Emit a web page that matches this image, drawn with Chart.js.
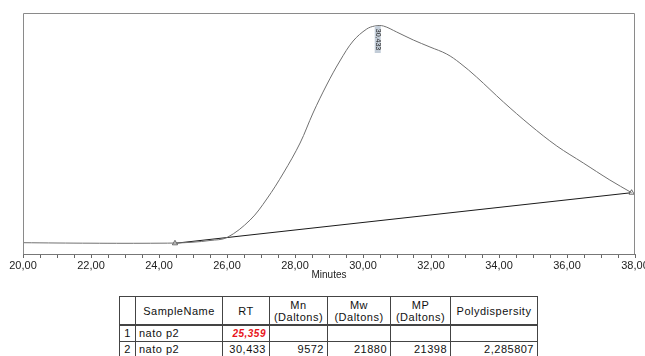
<!DOCTYPE html>
<html>
<head>
<meta charset="utf-8">
<script src="https://cdn.jsdelivr.net/npm/chart.js@4/dist/chart.umd.min.js"></script>
<style>
  html, body { margin:0; padding:0; background:#fff; overflow:hidden; width:645px; height:356px; }
  #wrap { position:absolute; left:0; top:0; width:660px; height:290px; }
  #results { position:absolute; left:119px; top:296px; border-collapse:collapse;
    font-family:"Liberation Sans", Arial, sans-serif; font-size:11px; color:#111; letter-spacing:0.5px; }
  #results td, #results th { border:1px solid #444; padding:0 3px; font-weight:normal; white-space:nowrap; }
  #results th { text-align:center; line-height:12px; height:27px; border-bottom:2px solid #444; }
  #results td { height:15px; line-height:13px; text-align:right; }
  #results td.l { text-align:left; }
  #results td.c { text-align:center; }
  #results td.red { color:#e8141c; font-style:italic; font-weight:bold; font-size:10px; }
</style>
</head>
<body>
<div id="wrap"><canvas id="chrom" width="660" height="290"></canvas></div>
<table id="results"></table>
<script>
// chromatogram trace (minutes / detector response)
const times  = [20, 21, 22, 23, 24, 24.5, 25, 25.5, 26, 26.68, 27.17, 27.66, 28.15, 28.53, 28.93, 29.32, 29.71, 30.11, 30.35, 30.6, 30.99, 31.48, 31.97, 32.46, 32.85, 33.34, 34.13, 34.91, 35.7, 36.48, 37.26, 37.9];
const signal = [11.3, 11.0, 10.8, 10.7, 10.8, 11.0, 11.8, 13.5, 16.5, 34, 55, 81, 111, 141, 169, 193, 213, 225, 228, 228, 222, 214, 207, 200, 191, 177, 152, 129, 108, 91, 74, 61.3];
// integration baseline
const baseTimes  = [24.47, 37.9];
const baseValues = [10.7, 61.3];
// axis
const xMin = 20, xMax = 38, xStep = 0.5;
const yMax = 241;
// results table
const tableHeaders = ['', 'SampleName', 'RT', 'Mn\n(Daltons)', 'Mw\n(Daltons)', 'MP\n(Daltons)', 'Polydispersity'];
const rowIds  = ['1', '2'];
const sampleNames = ['nato p2', 'nato p2'];
const rtValues = ['25,359', '30,433'];
const mnValues = ['', '9572'];
const mwValues = ['', '21880'];
const mpValues = ['', '21398'];
const pdValues = ['', '2,285807'];
const peakRT = 30.433;

const colWidths = [16, 87, 47, 58, 63, 60, 87];

// build table
const tbl = document.getElementById('results');
let html = '<tr>' + tableHeaders.map((h,i)=>`<th style="width:${colWidths[i]-7}px">${h.replace('\n','<br>')}</th>`).join('') + '</tr>';
rowIds.forEach((id,i)=>{
  html += `<tr><td class="c">${id}</td><td class="l">${sampleNames[i]}</td>`
    + `<td class="${i===0?'red':''}">${rtValues[i]}</td><td>${mnValues[i]}</td><td>${mwValues[i]}</td>`
    + `<td>${mpValues[i]}</td><td>${pdValues[i]}</td></tr>`;
});
tbl.innerHTML = html;

const framePlugin = {
  id:'frame',
  afterDraw(chart){
    const {ctx, chartArea:a, scales} = chart;
    ctx.save();
    ctx.strokeStyle = '#8a8a8a';
    ctx.lineWidth = 1;
    ctx.beginPath();
    ctx.moveTo(a.left+0.5, a.bottom);
    ctx.lineTo(a.left+0.5, a.top+0.5);
    ctx.lineTo(a.right-0.5, a.top+0.5);
    ctx.lineTo(a.right-0.5, a.bottom);
    ctx.stroke();
    // peak label
    const px = scales.x.getPixelForValue(peakRT);
    const py = scales.y.getPixelForValue(Math.max(...signal));
    ctx.fillStyle = '#c3cdd8';
    ctx.fillRect(px-3, py, 6, 27);
    ctx.translate(px, py+13.5);
    ctx.rotate(Math.PI/2);
    ctx.fillStyle = '#222';
    ctx.font = '7px "Liberation Sans", Arial';
    ctx.textAlign = 'center';
    ctx.textBaseline = 'middle';
    ctx.fillText(rtValues[1], 0, 0);
    ctx.restore();
  }
};

new Chart(document.getElementById('chrom'), {
  type:'line',
  data:{
    datasets:[
      {data: times.map((t,i)=>({x:t, y:signal[i]})), borderColor:'#707070', borderWidth:1,
       pointRadius:0, tension:0.35},
      {data: baseTimes.map((t,i)=>({x:t, y:baseValues[i]})), borderColor:'#1a1a1a', borderWidth:1,
       pointStyle:'triangle', pointRadius:3, pointBorderColor:'#444', pointBackgroundColor:'#fff', pointBorderWidth:0.8}
    ]
  },
  options:{
    responsive:false,
    animation:false,
    layout:{padding:{left:23, top:13, right:25, bottom:6}},
    plugins:{legend:{display:false}, tooltip:{enabled:false}},
    scales:{
      x:{type:'linear', min:xMin, max:xMax,
        afterFit(s){ s.height = 30; },
        grid:{drawOnChartArea:false, tickLength:4, tickColor:'#666'},
        border:{color:'#777', width:1},
        ticks:{stepSize:xStep, autoSkip:false, maxRotation:0, padding:1, color:'#222',
          font:{family:'"Liberation Sans", Arial', size:11},
          callback:(v)=> (v % 2 === 0) ? v.toFixed(2).replace('.', ',') : ''},
        title:{display:true, text:'Minutes', color:'#222', padding:{top:0, bottom:3},
          font:{family:'"Liberation Sans", Arial', size:10}}
      },
      y:{display:false, min:0, max:yMax}
    }
  },
  plugins:[framePlugin]
});
</script>
</body>
</html>
